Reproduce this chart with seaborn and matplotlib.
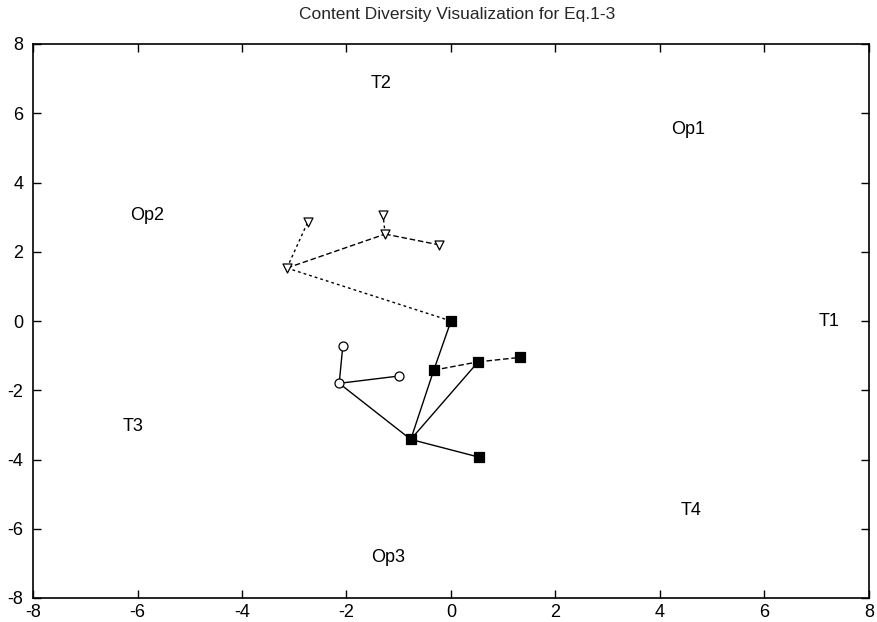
import matplotlib
matplotlib.use("Agg")
import matplotlib.pyplot as plt
import seaborn as sns
import pandas as pd

# Nodes
node_names = ["A", "B", "C", "D", "E", "F", "G", "H", "I", "J", "K", "L", "M", "N"]
node_x = [-3.14, -2.74, -1.26, -1.30, -0.23, 0.0, -0.33, 0.52, 1.33, -0.77, 0.53, -2.14, -2.07, -1.0]
node_y = [1.53, 2.86, 2.51, 3.06, 2.2, 0.0, -1.42, -1.18, -1.05, -3.42, -3.93, -1.8, -0.72, -1.59]
node_group = ["tri", "tri", "tri", "tri", "tri",
              "sq", "sq", "sq", "sq", "sq", "sq",
              "circ", "circ", "circ"]

# Edges (from, to, link type)
edge_from = ["A", "A", "C", "C", "A", "F", "G", "G", "H", "J", "J", "L", "L", "L"]
edge_to   = ["B", "C", "D", "E", "F", "G", "J", "H", "I", "H", "K", "M", "N", "J"]
edge_type = ["dot", "dash", "dot", "dash", "dot", "solid", "solid", "dash", "dash",
             "solid", "solid", "solid", "solid", "solid"]

# Text labels
label_text = ["T1", "T2", "T3", "T4", "Op1", "Op2", "Op3"]
label_x = [7.23, -1.34, -6.09, 4.59, 4.54, -5.82, -1.21]
label_y = [0.0, 6.85, -3.06, -5.46, 5.52, 3.06, -6.82]

sns.set_theme(style="white")
plt.rcParams["font.family"] = ["Liberation Sans", "DejaVu Sans"]
plt.rcParams["axes.unicode_minus"] = False

fig = plt.figure(figsize=(8.77, 6.22), dpi=100)
ax = fig.add_axes([33 / 877, 24 / 622, 836 / 877, 554 / 622])

nodes = pd.DataFrame({"name": node_names, "x": node_x, "y": node_y, "group": node_group})
pos = {n: (x, y) for n, x, y in zip(node_names, node_x, node_y)}

ls_map = {"dot": (0, (2, 2.2)), "dash": (0, (4, 2)), "solid": "-"}
for f, t, k in zip(edge_from, edge_to, edge_type):
    seg = pd.DataFrame({"x": [pos[f][0], pos[t][0]], "y": [pos[f][1], pos[t][1]]})
    ax.plot(seg["x"], seg["y"], color="black", linestyle=ls_map[k], linewidth=1.0, zorder=2)

marker_map = {"tri": "v", "sq": "s", "circ": "o"}
face_map = {"tri": "white", "sq": "black", "circ": "white"}
size_map = {"tri": 42, "sq": 42, "circ": 42}
for g in ["tri", "sq", "circ"]:
    sub = nodes[nodes["group"] == g]
    sns.scatterplot(data=sub, x="x", y="y", marker=marker_map[g], s=size_map[g],
                    facecolor=face_map[g], edgecolor="black", linewidth=0.9,
                    ax=ax, zorder=3, legend=False)

for t, x, y in zip(label_text, label_x, label_y):
    ax.text(x, y, t, ha="center", va="center", fontsize=13, color="black")

ax.set_xlim(-8, 8)
ax.set_ylim(-8, 8)
ax.set_xticks(range(-8, 9, 2))
ax.set_yticks(range(-8, 9, 2))
ax.set_xlabel("")
ax.set_ylabel("")
ax.tick_params(direction="in", length=5.5, width=1, top=True, right=True,
               bottom=True, left=True, labelsize=13, colors="black")
ax.tick_params(axis="x", pad=4)
ax.tick_params(axis="y", pad=7)
for sp in ax.spines.values():
    sp.set_color("black")
    sp.set_linewidth(1.2)
ax.set_title("Content Diversity Visualization for Eq.1-3", fontsize=12.5, pad=18, x=0.507)

fig.savefig("out.png", dpi=100)
